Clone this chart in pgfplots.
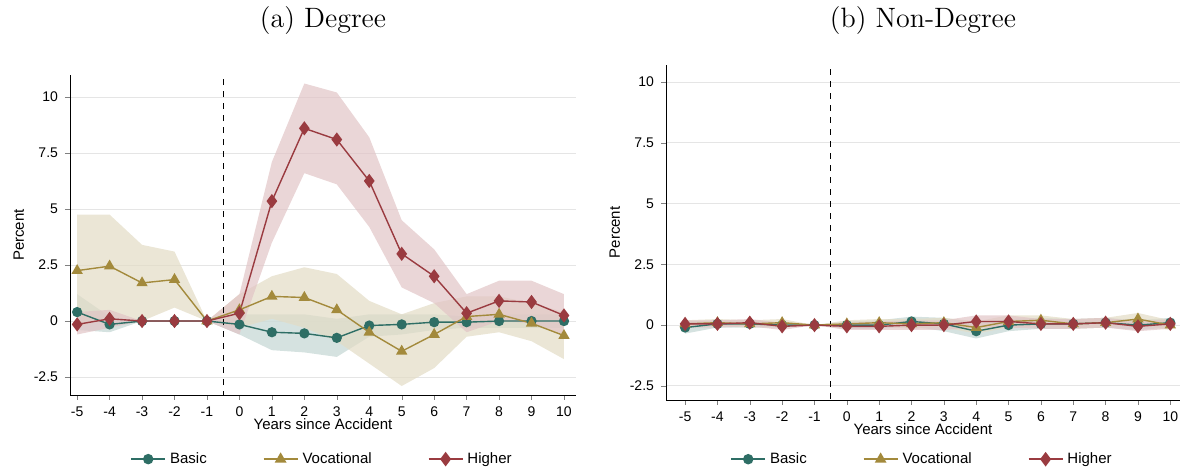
\documentclass[border=0pt]{standalone}
\usepackage{pgfplots}
\pgfplotsset{compat=1.18}
\usepgfplotslibrary{fillbetween}
\usepackage{fontspec}
\newfontfamily\arialf{Liberation Sans}
\definecolor{cB}{HTML}{2E6E65}
\definecolor{cV}{HTML}{A38A3C}
\definecolor{cH}{HTML}{9A3B40}
\pgfplotstableread{
x b bl bu v vl vu h hl hu
-5 0.4 -0.4 1.2 2.25 -0.3 4.75 -0.15 -0.6 0.4
-4 -0.15 -0.5 0.2 2.45 0.2 4.75 0.1 -0.3 0.5
-3 0 0 0 1.7 0 3.4 0 0 0
-2 0 0 0 1.85 0.6 3.1 0 0 0
-1 0 0 0 0 0 0 0 0 0
0 -0.15 -0.6 0.3 0.5 -0.3 1.2 0.35 -0.6 1.2
1 -0.5 -1.3 0.3 1.1 0.1 2.0 5.35 3.5 7.1
2 -0.55 -1.4 0.3 1.05 -0.3 2.4 8.6 6.6 10.6
3 -0.75 -1.6 0.1 0.5 -0.9 2.1 8.1 6.1 10.2
4 -0.2 -0.7 0.3 -0.5 -1.9 0.9 6.25 4.2 8.2
5 -0.15 -0.6 0.3 -1.35 -2.9 0.3 3.0 1.5 4.5
6 -0.05 -0.4 0.3 -0.6 -2.1 0.8 2.0 0.8 3.2
7 -0.05 -0.3 0.2 0.2 -0.7 1.1 0.35 -0.5 1.2
8 0 -0.3 0.3 0.3 -0.5 1.1 0.9 0 1.8
9 0 -0.3 0.3 -0.1 -0.9 0.8 0.85 -0.1 1.8
10 0 -0.3 0.3 -0.65 -1.7 0.4 0.25 -0.6 1.2
}\degree
\pgfplotstableread{
x b bl bu v vl vu h hl hu
-5 -0.1 -0.35 0.15 0.05 -0.1 0.2 0.05 -0.1 0.2
-4 0.05 -0.1 0.2 0.1 -0.05 0.25 0.05 -0.1 0.2
-3 0.05 -0.1 0.2 0.05 -0.1 0.2 0.1 -0.05 0.25
-2 0 -0.1 0.1 0.1 -0.05 0.25 -0.05 -0.2 0.1
-1 0 0 0 0 0 0 0 0 0
0 0 -0.15 0.15 0.05 -0.1 0.2 -0.05 -0.2 0.1
1 0 -0.15 0.2 0.1 -0.05 0.25 -0.05 -0.2 0.15
2 0.15 -0.05 0.35 0.05 -0.15 0.25 0 -0.2 0.2
3 0.05 -0.25 0.3 0.1 -0.1 0.3 0 -0.2 0.2
4 -0.25 -0.55 0.1 -0.1 -0.35 0.15 0.15 -0.1 0.4
5 0 -0.25 0.25 0.15 -0.1 0.4 0.15 -0.1 0.4
6 0.05 -0.15 0.3 0.2 -0.05 0.4 0.05 -0.15 0.25
7 0.05 -0.15 0.25 0.05 -0.15 0.25 0.05 -0.15 0.25
8 0.1 -0.1 0.3 0.1 -0.1 0.3 0.1 -0.1 0.3
9 0 -0.2 0.2 0.25 0 0.5 -0.05 -0.25 0.15
10 0.1 -0.1 0.3 0 -0.2 0.2 0.05 -0.15 0.25
}\nondegree
\pgfplotsset{
 mystyle/.style={
  scale only axis, width=253pt,
  axis x line*=bottom, axis y line*=left,
  xtick={-5,...,10}, ytick={-2.5,0,2.5,5,7.5,10},
  yticklabels={-2.5,0,2.5,5,7.5,10},
  /pgf/number format/assume math mode=true,
  ymajorgrids, grid style={gray!20},
  tick label style={font=\arialf\fontsize{7}{8}\selectfont},
  label style={font=\arialf\fontsize{7.5}{8}\selectfont},
  xlabel={Years since Accident}, ylabel={Percent},
  xlabel style={yshift=6pt}, ylabel style={yshift=-2pt},
  tick align=outside, major tick length=2.5pt,
  title style={font=\fontsize{14}{16}\selectfont},
  legend style={anchor=north, draw=none, legend columns=3,
   font=\arialf\fontsize{7.5}{8}\selectfont, /tikz/every even column/.append style={column sep=26pt}},
  legend cell align=left,
  legend image post style={line width=0.8pt},
 },
}
\newcommand{\panel}[1]{
 \addplot[name path=bu, draw=none, forget plot] table[x=x,y=bu]{#1};
 \addplot[name path=bl, draw=none, forget plot] table[x=x,y=bl]{#1};
 \addplot[cB!25, opacity=0.8, forget plot] fill between[of=bu and bl];
 \addplot[name path=vu, draw=none, forget plot] table[x=x,y=vu]{#1};
 \addplot[name path=vl, draw=none, forget plot] table[x=x,y=vl]{#1};
 \addplot[cV!30, opacity=0.7, forget plot] fill between[of=vu and vl];
 \addplot[name path=hu, draw=none, forget plot] table[x=x,y=hu]{#1};
 \addplot[name path=hl, draw=none, forget plot] table[x=x,y=hl]{#1};
 \addplot[cH!30, opacity=0.7, forget plot] fill between[of=hu and hl];
 \draw[dashed, black, line width=0.6pt] (axis cs:-0.5,-5) -- (axis cs:-0.5,12);
 \addplot[cB, line width=0.7pt, mark=*, mark size=2.2pt] table[x=x,y=b]{#1};
 \addplot[cV, line width=0.7pt, mark=triangle*, mark size=2.6pt] table[x=x,y=v]{#1};
 \addplot[cH, line width=0.7pt, mark=diamond*, mark size=3pt] table[x=x,y=h]{#1};
 \legend{Basic, Vocational, Higher}
}
\begin{document}
\begin{tikzpicture}
\begin{axis}[mystyle, at={(35pt,37.5pt)}, height=160pt,
 xmin=-5.22, xmax=10.37, ymin=-3.3, ymax=10.98, title={(a) Degree},
 title style={yshift=10.5pt}, legend style={at={(0.5,-0.1525)}}]
\panel{\degree}
\end{axis}
\begin{axis}[mystyle, at={(333pt,35pt)}, width=257pt, height=167.5pt,
 xmin=-5.59, xmax=10.3, ymin=-3.08, ymax=10.7, title={(b) Non-Degree},
 title style={yshift=5.5pt}, legend style={at={(0.5,-0.131)}}]
\panel{\nondegree}
\end{axis}
\pgfresetboundingbox
\path (0,0) rectangle (595pt,235pt);
\end{tikzpicture}
\end{document}
